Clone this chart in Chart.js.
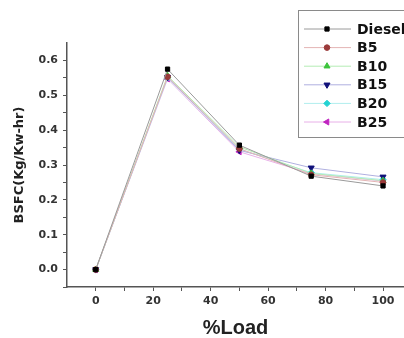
<!DOCTYPE html>
<html>
<head>
<meta charset="utf-8">
<script src="https://cdn.jsdelivr.net/npm/chart.js@4/dist/chart.umd.min.js"></script>
<style>
  html, body { margin: 0; padding: 0; background: #fff; }
  #wrap { width: 404px; height: 338px; }
</style>
</head>
<body>
<div id="wrap"><canvas id="bsfc" width="404" height="338"></canvas></div>
<script>
// %Load on x, BSFC on y
const loads = [0, 25, 50, 75, 100];
const diesel = [0, 0.575, 0.357, 0.268, 0.240];
const b5 = [0, 0.553, 0.347, 0.272, 0.250];
const b10 = [0, 0.556, 0.352, 0.276, 0.255];
const b15 = [0, 0.552, 0.342, 0.292, 0.266];
const b20 = [0, 0.550, 0.345, 0.278, 0.258];
const b25 = [0, 0.547, 0.338, 0.275, 0.254];

const seriesNames = ['Diesel', 'B5', 'B10', 'B15', 'B20', 'B25'];
const xTicks = [0, 10, 20, 30, 40, 50, 60, 70, 80, 90, 100];
const xLabels = [0, 20, 40, 60, 80, 100];
const yTicks = [-0.05, 0, 0.05, 0.1, 0.15, 0.2, 0.25, 0.3, 0.35, 0.4, 0.45, 0.5, 0.55, 0.6];
const yLabels = [0, 0.1, 0.2, 0.3, 0.4, 0.5, 0.6];

const styles = [
  { color: '#000000', line: '#9a9a9a', shape: 'rect', rot: 0, r: 3 },
  { color: '#9b3b3b', line: '#e4b4b4', shape: 'circle', rot: 0, r: 2.8 },
  { color: '#3cc43c', line: '#b4ecb4', shape: 'triangle', rot: 0, r: 3.5 },
  { color: '#10107a', line: '#b0b0e0', shape: 'triangle', rot: 180, r: 3.5 },
  { color: '#22d3d3', line: '#b0eeee', shape: 'rectRot', rot: 0, r: 3.2 },
  { color: '#c024c0', line: '#e8b0e8', shape: 'triangle', rot: -90, r: 3.5 }
];

const allSeries = [diesel, b5, b10, b15, b20, b25];

const datasets = allSeries.map((vals, i) => ({
  label: seriesNames[i],
  data: loads.map((x, k) => ({ x: x, y: vals[k] })),
  borderColor: styles[i].line,
  borderWidth: 1,
  backgroundColor: styles[i].color,
  pointBorderColor: styles[i].color,
  pointBackgroundColor: styles[i].color,
  pointStyle: styles[i].shape,
  pointRotation: styles[i].rot,
  pointRadius: styles[i].r,
  tension: 0
}));

// boxed legend in the upper right, cut off by the right edge like the figure
const boxLegend = {
  id: 'boxLegend',
  afterDraw(chart) {
    const ctx = chart.ctx;
    ctx.save();
    ctx.fillStyle = '#fff';
    ctx.fillRect(298.5, 10.5, 120, 127);
    ctx.strokeStyle = '#8a8a8a';
    ctx.lineWidth = 1;
    ctx.strokeRect(298.5, 10.5, 120, 127);
    chart.data.datasets.forEach((ds, i) => {
      const y = 29 + i * 18.6;
      ctx.strokeStyle = ds.borderColor;
      ctx.lineWidth = 1;
      ctx.beginPath();
      ctx.moveTo(304, y);
      ctx.lineTo(351, y);
      ctx.stroke();
      ctx.fillStyle = ds.pointBackgroundColor;
      ctx.strokeStyle = ds.pointBorderColor;
      Chart.helpers.drawPoint(ctx, { pointStyle: ds.pointStyle, rotation: ds.pointRotation, radius: ds.pointRadius, borderWidth: 1 }, 327, y);
      ctx.fillStyle = '#111';
      ctx.font = 'bold 14px "DejaVu Sans"';
      ctx.textBaseline = 'middle';
      ctx.textAlign = 'left';
      ctx.fillText(ds.label, 357, y + 1);
    });
    ctx.restore();
  }
};

const tickFont = { family: 'DejaVu Sans', size: 11, weight: 'bold' };

new Chart(document.getElementById('bsfc'), {
  type: 'line',
  data: { datasets: datasets },
  plugins: [boxLegend],
  options: {
    responsive: false,
    animation: false,
    devicePixelRatio: 1,
    layout: { autoPadding: false, padding: { top: 43, right: 0, left: 0, bottom: 0 } },
    plugins: { legend: { display: false }, tooltip: { enabled: false } },
    scales: {
      x: {
        type: 'linear',
        min: -10,
        max: 107.3,
        afterBuildTicks: s => { s.ticks = xTicks.map(v => ({ value: v })); },
        afterFit: s => { s.height = 51; s.paddingLeft = 0; s.paddingRight = 0; },
        grid: { drawOnChartArea: false, drawTicks: true, tickLength: 4, tickColor: '#555' },
        border: { display: true, color: '#555', width: 1.5 },
        ticks: {
          autoSkip: false, maxRotation: 0, padding: 4, color: '#333', font: tickFont,
          callback: v => xLabels.includes(v) ? String(v) : ''
        },
        title: {
          display: true, text: '%Load', color: '#222',
          font: { family: 'Liberation Sans', size: 20, weight: 'bold' },
          padding: { top: 0, bottom: -2 }
        }
      },
      y: {
        min: -0.05,
        max: 0.65,
        afterBuildTicks: s => { s.ticks = yTicks.map(v => ({ value: v })); },
        afterFit: s => { s.width = 67; },
        grid: { drawOnChartArea: false, drawTicks: true, tickLength: 4, tickColor: '#555' },
        border: { display: true, color: '#555', width: 1.5 },
        ticks: {
          autoSkip: false, padding: 5, color: '#333', font: tickFont,
          callback: v => yLabels.some(l => Math.abs(l - v) < 1e-6) ? v.toFixed(1) : ''
        },
        title: {
          display: true, text: 'BSFC(Kg/Kw-hr)', color: '#222',
          font: { family: 'DejaVu Sans', size: 13, weight: 'bold' },
          padding: { top: 12, bottom: 0 }
        }
      }
    }
  }
});
</script>
</body>
</html>
